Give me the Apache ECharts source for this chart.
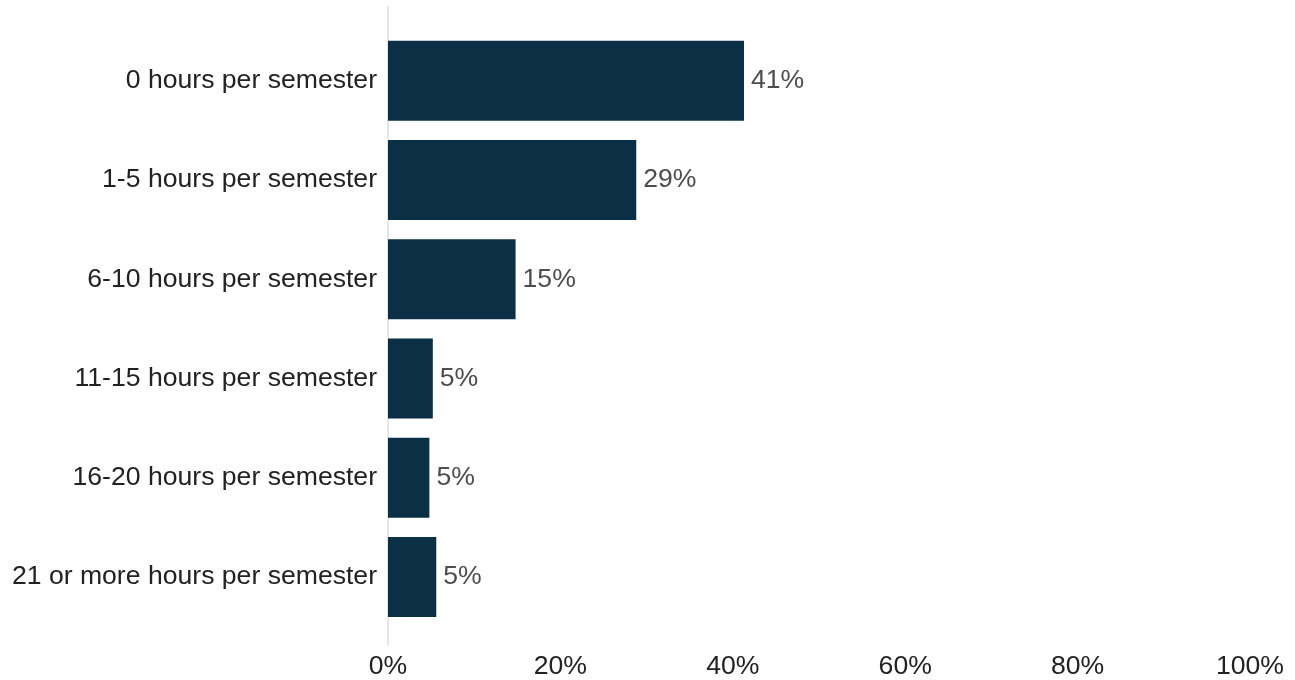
<!DOCTYPE html>
<html>
<head>
<meta charset="utf-8">
<script src="https://cdn.jsdelivr.net/npm/echarts@6/dist/echarts.min.js"></script>
<style>
html,body{margin:0;padding:0;background:#fff;}
#chart{width:1295px;height:680px;}
</style>
</head>
<body>
<div id="chart"></div>
<script>
const categories = [
  '0 hours per semester',
  '1-5 hours per semester',
  '6-10 hours per semester',
  '11-15 hours per semester',
  '16-20 hours per semester',
  '21 or more hours per semester'
];
const values = [41.3, 28.8, 14.8, 5.2, 4.8, 5.6];
const valueLabels = ['41%', '29%', '15%', '5%', '5%', '5%'];
const xTicks = [0, 20, 40, 60, 80, 100];

const FONT = '"Liberation Sans", Arial, sans-serif';
const FS = 26.6;
const chart = echarts.init(document.getElementById('chart'), null, {renderer: 'canvas'});
chart.setOption({
  animation: false,
  backgroundColor: '#ffffff',
  grid: [
    {left: 388, right: 45, top: 7, bottom: 30},
    {left: 388, right: 45, top: 31.2, bottom: 53.4}
  ],
  xAxis: [
    {
      gridIndex: 0, type: 'value', min: xTicks[0], max: xTicks[xTicks.length - 1], interval: 20,
      axisLine: {show: false}, axisTick: {show: false}, splitLine: {show: false},
      axisLabel: {
        formatter: v => v + '%', fontFamily: FONT, fontSize: FS, color: '#222222', margin: 8
      }
    },
    {
      gridIndex: 1, type: 'value', min: xTicks[0], max: xTicks[xTicks.length - 1],
      show: false
    }
  ],
  yAxis: [
    {
      gridIndex: 0, type: 'value', min: 0, max: 1,
      axisLine: {show: true, lineStyle: {color: '#dedede', width: 1.5}},
      axisTick: {show: false}, axisLabel: {show: false}, splitLine: {show: false}
    },
    {
      gridIndex: 1, type: 'category', data: categories, inverse: true,
      axisLine: {show: false}, axisTick: {show: false}, splitLine: {show: false},
      axisLabel: {fontFamily: FONT, fontSize: FS, color: '#222222', margin: 11, padding: [4, 0, 0, 0]}
    }
  ],
  series: [{
    type: 'bar',
    xAxisIndex: 1, yAxisIndex: 1,
    data: values,
    barWidth: 80,
    itemStyle: {color: '#0b2f45'},
    label: {
      show: true, position: 'right', distance: 7,
      formatter: p => valueLabels[p.dataIndex],
      fontFamily: FONT, fontSize: FS, color: '#4d4d4d', padding: [4, 0, 0, 0]
    }
  }]
});
</script>
</body>
</html>
